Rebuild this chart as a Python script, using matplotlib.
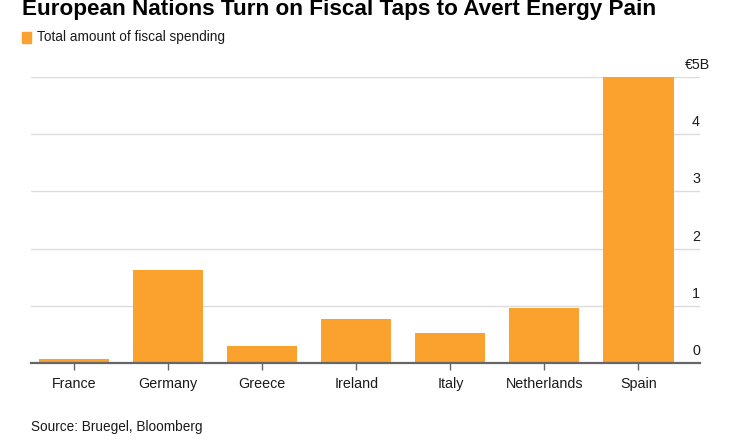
import matplotlib
matplotlib.use("Agg")
import matplotlib.pyplot as plt
from matplotlib.transforms import offset_copy

countries = ["France", "Germany", "Greece", "Ireland", "Italy", "Netherlands", "Spain"]
spending = [0.07, 1.63, 0.29, 0.77, 0.52, 0.96, 5.0]
y_ticks = [0, 1, 2, 3, 4, 5]
y_labels = ["0", "1", "2", "3", "4", "€5B"]

orange = "#FBA12D"
fnt = ["Liberation Sans", "DejaVu Sans"]

fig = plt.figure(figsize=(7.36, 4.43), dpi=100)
ax = fig.add_axes([31 / 736, 80.3 / 443, 669 / 736, 285.4 / 443])

x = range(len(countries))
ax.bar(x, spending, width=0.745, color=orange, zorder=2)
ax.set_xlim(-0.457, 6.654)
ax.set_ylim(0, 5)

# gridlines with labels sitting above them, on the right
for t, lab in zip(y_ticks, y_labels):
    if t > 0:
        ax.axhline(t, color="#dcdcdc", lw=1, zorder=1)
    dx = 10 if lab.startswith("€") else 0
    tr = offset_copy(ax.get_yaxis_transform(), fig=fig, x=dx, y=5, units="dots")
    ax.text(1.0, t, lab, transform=tr, ha="right", va="bottom",
            fontsize=10.3, family=fnt, color="#1a1a1a")
ax.set_yticks([])

ax.set_xticks(list(x))
ax.set_xticklabels(countries, fontsize=10.3, family=fnt, color="#1a1a1a")
ax.tick_params(axis="x", length=5, width=1, color="#666666", pad=5)

for s in ["top", "right", "left"]:
    ax.spines[s].set_visible(False)
ax.spines["bottom"].set_color("#666666")
ax.spines["bottom"].set_linewidth(1.6)
ax.spines["bottom"].set_zorder(3)

fig.text(22 / 736, 1 - 10 / 443, "European Nations Turn on Fiscal Taps to Avert Energy Pain",
         fontsize=16.2, fontweight="bold", family=fnt,
         va="center", ha="left", color="black")
fig.patches.append(plt.Rectangle((22 / 736, 1 - 43 / 443), 9 / 736, 11 / 443,
                                 transform=fig.transFigure, color=orange, figure=fig))
fig.text(37 / 736, 1 - 37 / 443, "Total amount of fiscal spending", fontsize=9.8,
         family=fnt, va="center", ha="left", color="#1a1a1a")
fig.text(31 / 736, 1 - 427 / 443, "Source: Bruegel, Bloomberg", fontsize=9.8,
         family=fnt, va="center", ha="left", color="#1a1a1a")

fig.savefig("out.png", dpi=100)
